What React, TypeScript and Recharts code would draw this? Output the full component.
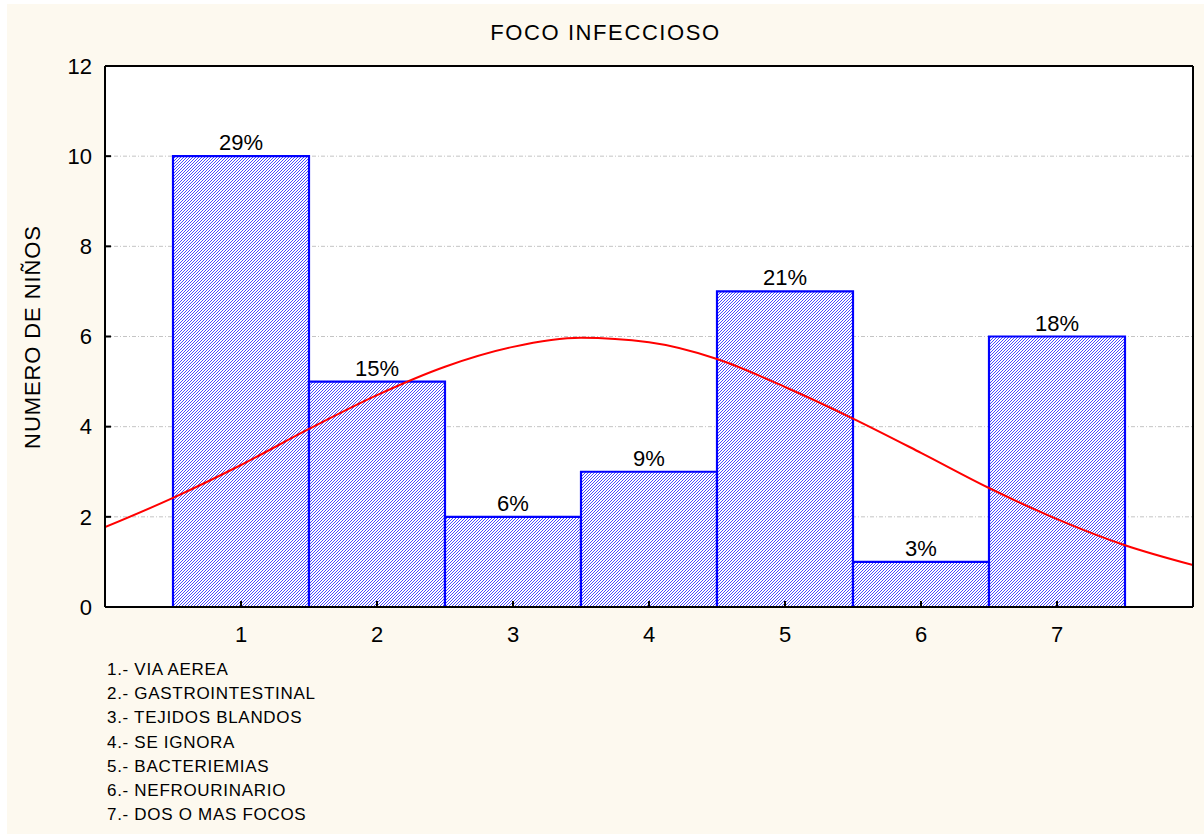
import React from 'react';
import {
  ComposedChart,
  Bar,
  Line,
  XAxis,
  YAxis,
  CartesianGrid,
  LabelList,
} from 'recharts';

const categories = ['1', '2', '3', '4', '5', '6', '7'];
const counts = [10, 5, 2, 3, 7, 1, 6];
const percentLabels = ['29%', '15%', '6%', '9%', '21%', '3%', '18%'];

// fitted curve
const curveX = [0, 0.5, 1, 1.5, 2, 2.5, 3, 3.5, 4, 4.5, 5, 5.5, 6, 6.5, 7, 7.5, 8];
const curveY = [1.77, 2.42, 3.15, 3.95, 4.7, 5.33, 5.77, 5.97, 5.87, 5.5, 4.88, 4.18, 3.42, 2.64, 1.95, 1.37, 0.93];

const yTicks = [0, 2, 4, 6, 8, 10, 12];
const xTicks = [1, 2, 3, 4, 5, 6, 7];

const legendItems = [
  '1.- VIA AEREA',
  '2.- GASTROINTESTINAL',
  '3.- TEJIDOS BLANDOS',
  '4.- SE IGNORA',
  '5.- BACTERIEMIAS',
  '6.- NEFROURINARIO',
  '7.- DOS O MAS FOCOS',
];

const FONT = '"Liberation Sans", Arial, sans-serif';

const barData = categories.map((cat, i) => ({
  cat,
  count: counts[i],
  pct: percentLabels[i],
}));

const curveData = curveX.map((x, i) => ({ x, y: curveY[i] }));

const axisStyle = { stroke: '#000', strokeWidth: 2 };

const App: React.FC = () => {
  return (
    <div
      style={{
        position: 'absolute',
        left: 7,
        top: 4,
        width: 1197,
        height: 830,
        background: '#FDF9EF',
        fontFamily: FONT,
        color: '#000',
      }}
    >
      <svg width="0" height="0" style={{ position: 'absolute' }}>
        <defs>
          <pattern id="hatch" patternUnits="userSpaceOnUse" width="3" height="3">
            <rect width="3" height="3" fill="#fff" />
            <path d="M-1,1 L1,-1 M0,3 L3,0 M2,4 L4,2" stroke="#1c1cff" strokeWidth="0.8" />
          </pattern>
        </defs>
      </svg>

      <div
        style={{
          position: 'absolute',
          top: 17,
          left: 0,
          width: 1197,
          textAlign: 'center',
          fontSize: 22,
          lineHeight: '24px',
          letterSpacing: 1.6,
        }}
      >
        FOCO INFECCIOSO
      </div>

      <div
        style={{
          position: 'absolute',
          left: 26,
          top: 333,
          transform: 'translate(-50%, -50%) rotate(-90deg)',
          whiteSpace: 'nowrap',
          fontSize: 22,
          lineHeight: '24px',
          letterSpacing: 0.9,
        }}
      >
        NUMERO DE NIÑOS
      </div>

      <ComposedChart
        width={1197}
        height={660}
        data={barData}
        margin={{ top: 61, right: 10, bottom: 0, left: 0 }}
        barCategoryGap={0}
        barGap={0}
        style={{ fontFamily: FONT, position: 'absolute', left: 0, top: 0 }}
      >
        <CartesianGrid vertical={false} fill="#fff" stroke="#c4c4c4" strokeDasharray="4 2 1 2" />
        <XAxis
          dataKey="cat"
          type="category"
          padding={{ left: 68, right: 68 }}
          height={57}
          axisLine={axisStyle}
          tickLine={axisStyle}
          tickSize={-6}
          tickMargin={25}
          tick={{ fill: '#000', fontSize: 22 }}
        />
        <XAxis xAxisId="curve" type="number" dataKey="x" domain={[0, 8]} allowDataOverflow hide />
        <XAxis
          xAxisId="top"
          orientation="top"
          type="number"
          domain={[0, 8]}
          ticks={xTicks}
          height={1}
          axisLine={axisStyle}
          tickLine={axisStyle}
          tickSize={-6}
          tick={false}
        />
        <YAxis
          domain={[0, 12]}
          ticks={yTicks}
          width={98}
          axisLine={axisStyle}
          tickLine={axisStyle}
          tickSize={-6}
          tickMargin={19}
          tick={{ fill: '#000', fontSize: 22 }}
        />
        <YAxis
          yAxisId="right"
          orientation="right"
          domain={[0, 12]}
          ticks={yTicks}
          width={1}
          axisLine={axisStyle}
          tickLine={axisStyle}
          tickSize={-6}
          tick={false}
        />
        <Bar
          dataKey="count"
          fill="url(#hatch)"
          stroke="#0000ff"
          strokeWidth={2.2}
          isAnimationActive={false}
        >
          <LabelList dataKey="pct" position="top" offset={6} fill="#000" fontSize={22} />
        </Bar>
        <Line
          xAxisId="curve"
          data={curveData}
          dataKey="y"
          type="monotone"
          stroke="#ff0000"
          strokeWidth={2}
          dot={false}
          isAnimationActive={false}
        />
      </ComposedChart>

      <div
        style={{
          position: 'absolute',
          left: 100,
          top: 654,
          fontSize: 17,
          lineHeight: '24.2px',
          letterSpacing: 0.7,
        }}
      >
        {legendItems.map((item) => (
          <div key={item}>{item}</div>
        ))}
      </div>
    </div>
  );
};

export default App;
